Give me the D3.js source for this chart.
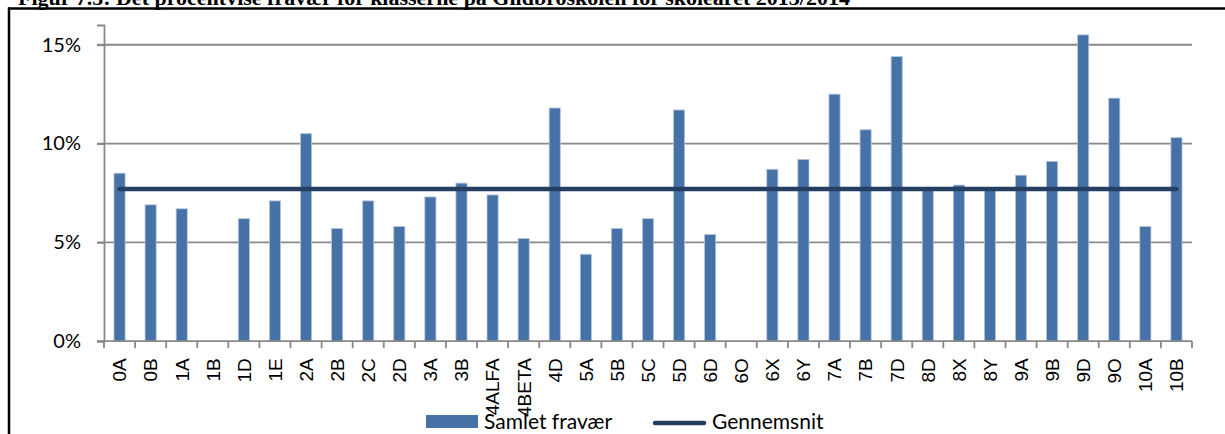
<!DOCTYPE html>
<html>
<head>
<meta charset="utf-8">
<script src="https://cdn.jsdelivr.net/npm/d3@7"></script>
<style>
  body { margin: 0; background: #fff; }
  svg { display: block; }
  .tick text { font-family: Lato, "Open Sans", sans-serif; font-size: 20px; fill: #000; }
  .xakse .tick text { font-family: "Liberation Sans", Arial, sans-serif; font-size: 19px; }
</style>
</head>
<body>
<div id="chart"></div>
<script>
// data: klasser og procentvis fravær 2013/2014 (null = ingen værdi)
var klasser = ["0A","0B","1A","1B","1D","1E","2A","2B","2C","2D",
               "3A","3B","4ALFA","4BETA","4D","5A","5B","5C","5D","6D",
               "6O","6X","6Y","7A","7B","7D","8D","8X","8Y","9A",
               "9B","9D","9O","10A","10B"];
var fravaer = [8.5, 6.9, 6.7, null, 6.2, 7.1, 10.5, 5.7, 7.1, 5.8,
               7.3, 8.0, 7.4, 5.2, 11.8, 4.4, 5.7, 6.2, 11.7, 5.4,
               null, 8.7, 9.2, 12.5, 10.7, 14.4, 7.7, 7.9, 7.7, 8.4,
               9.1, 15.5, 12.3, 5.8, 10.3];
var gennemsnit = 7.7;
var yTicks = [0, 5, 10, 15];
var serieNavne = ["Samlet fravær", "Gennemsnit"];
var titel = "Figur 7.5: Det procentvise fravær for klasserne på Gildbroskolen for skoleåret 2013/2014";

var width = 1225, height = 434;
var bar_color = "#4672A8";
var avg_color = "#253F62";
var grid_color = "#898989";

var svg = d3.select("#chart")
            .append("svg")
            .attr("width", width)
            .attr("height", height);

// titel (skåret af i toppen)
svg.append("text")
   .attr("x", 18)
   .attr("y", 5)
   .style("font-family", "'Liberation Serif', 'Times New Roman', serif")
   .style("font-weight", "bold")
   .style("font-size", "22px")
   .text(titel);

// ramme
svg.append("line")
   .attr("x1", 8).attr("x2", width)
   .attr("y1", 8.5).attr("y2", 8.5)
   .style("stroke", "#000").style("stroke-width", 2.5);
svg.append("line")
   .attr("x1", 9).attr("x2", 9)
   .attr("y1", 7.5).attr("y2", height)
   .style("stroke", "#000").style("stroke-width", 2.5);

var x = d3.scaleBand()
          .domain(klasser)
          .range([104, 1192])
          .paddingInner(0.61)
          .paddingOuter(0.305);

var xb = d3.scaleBand().domain(klasser).range([104, 1192]);

var y = d3.scaleLinear()
          .domain([0, 16])
          .range([341.2, 25]);

// gitterlinjer
svg.append("g")
   .selectAll("line")
   .data(yTicks.filter(function(d){ return d > 0; }))
   .enter()
   .append("line")
   .attr("x1", 97).attr("x2", 1192)
   .attr("y1", function(d){ return y(d); })
   .attr("y2", function(d){ return y(d); })
   .style("stroke", grid_color)
   .style("stroke-width", 1.8);

// y-akse
var yAxis = d3.axisLeft(y)
              .tickValues(yTicks)
              .tickFormat(function(d){ return d + "%"; })
              .tickSize(7)
              .tickPadding(16);

var gy = svg.append("g")
            .attr("transform", "translate(104,0)")
            .call(yAxis);
gy.selectAll("line, path").style("stroke", grid_color).style("stroke-width", 1.8);

// søjler
svg.append("g")
   .selectAll("rect")
   .data(klasser.filter(function(d, i){ return fravaer[i] != null; }))
   .enter()
   .append("rect")
   .attr("x", function(d){ return x(d) + 0.5; })
   .attr("width", x.bandwidth() - 1)
   .attr("y", function(d){ return y(fravaer[klasser.indexOf(d)]); })
   .attr("height", function(d){ return y(0) - y(fravaer[klasser.indexOf(d)]); })
   .style("fill", bar_color)
   .style("stroke", "#b4c6de")
   .style("stroke-width", 0.8);

// x-akse
var xAxis = d3.axisBottom(xb).tickSize(0).tickPadding(0);
var gx = svg.append("g")
            .attr("class", "xakse")
            .attr("transform", "translate(0," + y(0) + ")")
            .call(xAxis);
gx.select("path").remove();
gx.append("line")
  .attr("x1", 97).attr("x2", 1192)
  .style("stroke", grid_color).style("stroke-width", 1.8);
gx.selectAll(".xt")
  .data(klasser.concat(["_end"]))
  .enter()
  .append("line")
  .attr("class", "xt")
  .attr("x1", function(d, i){ return 104 + i * xb.step(); })
  .attr("x2", function(d, i){ return 104 + i * xb.step(); })
  .attr("y1", 0).attr("y2", 7)
  .style("stroke", grid_color).style("stroke-width", 1.8);
gx.selectAll(".tick text")
  .attr("transform", "translate(0,17) rotate(-90)")
  .attr("x", 0).attr("y", 0)
  .attr("dy", "0.36em")
  .style("text-anchor", "end");

// gennemsnitslinje
var line = d3.line()
             .x(function(d){ return xb(d) + xb.bandwidth() / 2; })
             .y(function(){ return y(gennemsnit); });

svg.append("path")
   .datum([klasser[0], klasser[klasser.length - 1]])
   .attr("d", line)
   .style("fill", "none")
   .style("stroke", avg_color)
   .style("stroke-width", 4.5)
   .style("stroke-linecap", "round");

// legende
var legend = svg.append("g").attr("class", "legend");
legend.append("rect")
      .attr("x", 426).attr("y", 415)
      .attr("width", 52).attr("height", 13)
      .style("fill", bar_color);
legend.append("text")
      .attr("x", 484).attr("y", 429)
      .style("font-family", "Lato, 'Open Sans', sans-serif")
      .style("font-size", "21px")
      .text(serieNavne[0]);
legend.append("line")
      .attr("x1", 655).attr("x2", 704)
      .attr("y1", 423).attr("y2", 423)
      .style("stroke", avg_color)
      .style("stroke-width", 4.5)
      .style("stroke-linecap", "round");
legend.append("text")
      .attr("x", 712).attr("y", 429)
      .style("font-family", "Lato, 'Open Sans', sans-serif")
      .style("font-size", "21px")
      .text(serieNavne[1]);
</script>
</body>
</html>
